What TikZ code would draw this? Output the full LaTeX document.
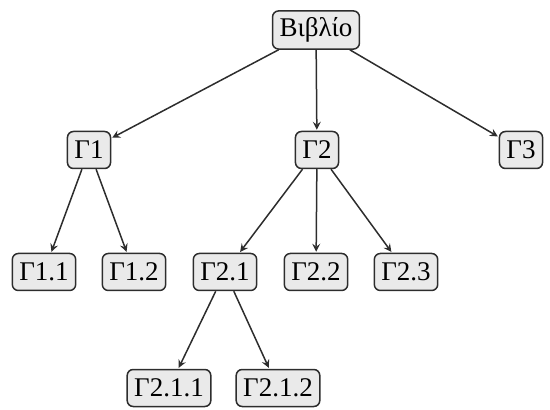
\documentclass[tikz,border=0pt]{standalone}
\usepackage{fontspec}
\setmainfont{Liberation Serif}
\usepackage{tikz}
\usetikzlibrary{arrows}
\definecolor{boxfill}{RGB}{234,234,234}
\definecolor{boxline}{RGB}{45,45,45}

\begin{document}
\begin{tikzpicture}[x=0.5pt, y=-0.5pt]
    \tikzset{ sec/.style ={draw=boxline, fill=boxfill, rounded corners=3pt, line width=0.75pt, inner xsep=3.5pt, minimum height=18.5pt, font=\fontsize{13.5}{15}\selectfont} }
    \tikzset{ lnk/.style ={->, >=stealth, draw=boxline, line width=0.75pt, shorten >=0.5pt} }

    \useasboundingbox (0,0) rectangle (550,410);

    \node[sec] (bk)    at (316,  30) {Βιβλίο};
    \node[sec] (c1)    at ( 89, 150) {Γ1};
    \node[sec] (c2)    at (317, 150) {Γ2};
    \node[sec] (c3)    at (521, 150) {Γ3};
    \node[sec] (c11)   at ( 44, 272) {Γ1.1};
    \node[sec] (c12)   at (134, 272) {Γ1.2};
    \node[sec] (c21)   at (225, 272) {Γ2.1};
    \node[sec] (c22)   at (316, 272) {Γ2.2};
    \node[sec] (c23)   at (406, 272) {Γ2.3};
    \node[sec] (c211)  at (169, 388) {Γ2.1.1};
    \node[sec] (c212)  at (278, 388) {Γ2.1.2};

    \draw[lnk] (bk)  -- (c1);
    \draw[lnk] (bk)  -- (c2);
    \draw[lnk] (bk)  -- (c3);
    \draw[lnk] (c1)  -- (c11);
    \draw[lnk] (c1)  -- (c12);
    \draw[lnk] (c2)  -- (c21);
    \draw[lnk] (c2)  -- (c22);
    \draw[lnk] (c2)  -- (c23);
    \draw[lnk] (c21) -- (c211);
    \draw[lnk] (c21) -- (c212);

\end{tikzpicture}
\end{document}
